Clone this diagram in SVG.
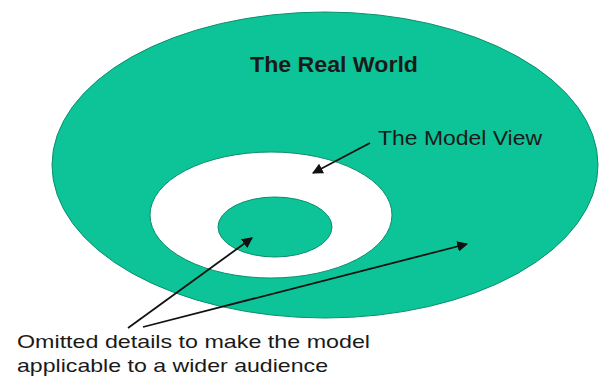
<svg xmlns="http://www.w3.org/2000/svg" width="599" height="381" viewBox="0 0 599 381">
<style>
.area{fill:#0cc497;stroke:#0b8f6c;stroke-width:1}
.hole{fill:#ffffff;stroke:#0b8f6c;stroke-width:1}
.lbl{font-family:"Liberation Sans",Arial,sans-serif;fill:#1a1a1a}
.conn{stroke:#111;stroke-width:1.8;fill:none;marker-end:url(#ah)}
</style>
<defs>
<marker id="ah" viewBox="0 0 10 10" refX="9" refY="5" markerWidth="6" markerHeight="6" orient="auto" markerUnits="strokeWidth">
<path d="M0,0 L10,5 L0,10 z" fill="#111"/>
</marker>
</defs>
<rect width="599" height="381" fill="#ffffff"/>
<g id="real-world">
<ellipse class="area" cx="325" cy="165" rx="273" ry="153"/>
<text class="lbl" x="334" y="72" font-size="22" font-weight="bold" text-anchor="middle" textLength="168" lengthAdjust="spacingAndGlyphs">The Real World</text>
</g>
<g id="model-view">
<ellipse class="hole" cx="271" cy="215" rx="121" ry="63"/>
<text class="lbl" x="378" y="145" font-size="20" textLength="164" lengthAdjust="spacingAndGlyphs">The Model View</text>
</g>
<g id="omitted-details">
<ellipse class="area" cx="275" cy="227" rx="57" ry="30"/>
</g>
<g id="caption">
<text class="lbl" x="17" y="348" font-size="19" fill="#2a2a2a" textLength="353" lengthAdjust="spacingAndGlyphs">Omitted details to make the model</text>
<text class="lbl" x="17" y="372" font-size="19" fill="#2a2a2a" textLength="311" lengthAdjust="spacingAndGlyphs">applicable to a wider audience</text>
</g>
<g id="connectors">
<line class="conn" x1="370" y1="143" x2="313" y2="173"/>
<line class="conn" x1="128" y1="328" x2="252" y2="238"/>
<line class="conn" x1="143" y1="327" x2="467" y2="244"/>
</g>
</svg>
